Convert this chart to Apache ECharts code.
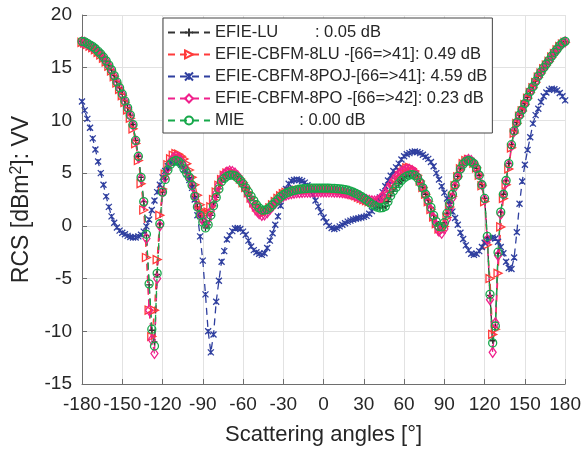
<!DOCTYPE html>
<html><head><meta charset="utf-8">
<script src="https://cdn.jsdelivr.net/npm/echarts@6/dist/echarts.min.js"></script>
<style>html,body{margin:0;padding:0;background:#fff}#c{width:584px;height:451px}</style>
</head><body><div id="c"></div>
<script>
// Scattering angles (degrees)
const angles = [-180,-178,-176,-174,-172,-170,-168,-166,-164,-162,-160,-158,-156,-154,-152,-150,-148,-146,-144,-142,-140,-138,-136,-134,-132,-130,-128,-126,-124,-122,-120,-118,-116,-114,-112,-110,-108,-106,-104,-102,-100,-98,-96,-94,-92,-90,-88,-86,-84,-82,-80,-78,-76,-74,-72,-70,-68,-66,-64,-62,-60,-58,-56,-54,-52,-50,-48,-46,-44,-42,-40,-38,-36,-34,-32,-30,-28,-26,-24,-22,-20,-18,-16,-14,-12,-10,-8,-6,-4,-2,0,2,4,6,8,10,12,14,16,18,20,22,24,26,28,30,32,34,36,38,40,42,44,46,48,50,52,54,56,58,60,62,64,66,68,70,72,74,76,78,80,82,84,86,88,90,92,94,96,98,100,102,104,106,108,110,112,114,116,118,120,122,124,126,128,130,132,134,136,138,140,142,144,146,148,150,152,154,156,158,160,162,164,166,168,170,172,174,176,178,180];

const mie = [17.5,17.45,17.3,17.15,17.0,16.8,16.55,16.3,16.0,15.65,15.25,14.8,14.25,13.65,13.1,12.5,11.85,11.2,10.5,9.6,8.1,6.6,4.6,2.3,-0.8,-5.5,-9.8,-11.4,-4.5,0.2,3.2,4.4,5.3,5.85,6.1,6.2,6.1,5.85,5.4,5.0,4.6,3.85,2.8,1.8,1.0,0.35,-0.2,0.1,1.0,1.9,2.7,3.5,4.2,4.5,4.7,4.8,4.82,4.75,4.55,4.3,4.0,3.6,3.2,2.8,2.4,2.0,1.7,1.5,1.5,1.55,1.75,2.0,2.25,2.5,2.75,2.95,3.1,3.2,3.3,3.35,3.42,3.47,3.5,3.53,3.55,3.57,3.57,3.58,3.58,3.58,3.58,3.58,3.57,3.56,3.55,3.53,3.5,3.47,3.43,3.38,3.3,3.2,3.08,2.95,2.8,2.62,2.43,2.25,2.05,1.9,1.78,1.7,1.72,1.85,2.3,2.85,3.3,3.65,4.0,4.3,4.55,4.72,4.82,4.85,4.78,4.55,4.1,3.6,3.0,2.45,1.75,1.0,0.4,-0.05,-0.1,0.3,1.2,2.1,3.0,3.9,4.7,5.4,5.85,6.1,6.2,6.1,5.9,5.45,4.8,3.9,2.6,-1.0,-6.5,-11.1,-9.5,-2.5,1.3,3.0,4.3,5.9,7.7,9.0,9.8,10.5,11.0,11.6,12.2,12.75,13.2,13.7,14.2,14.6,15.0,15.35,15.7,16.1,16.45,16.75,17.1,17.35,17.5];

const efieLU = [17.5,17.45,17.3,17.15,17.0,16.8,16.55,16.3,16.0,15.65,15.25,14.8,14.25,13.65,13.1,12.5,11.85,11.2,10.5,9.6,8.1,6.6,4.6,2.3,-0.9,-5.6,-9.9,-11.0,-4.6,0.2,3.2,4.4,5.3,5.85,6.1,6.2,6.1,5.85,5.4,5.0,4.6,3.85,2.8,1.8,1.0,0.35,-0.2,0.1,1.0,1.9,2.7,3.5,4.2,4.5,4.7,4.8,4.82,4.75,4.55,4.3,4.0,3.6,3.2,2.8,2.4,2.0,1.7,1.5,1.5,1.55,1.75,2.0,2.25,2.5,2.75,2.95,3.1,3.2,3.3,3.35,3.42,3.47,3.5,3.53,3.55,3.57,3.57,3.58,3.58,3.58,3.58,3.58,3.57,3.56,3.55,3.53,3.5,3.47,3.43,3.38,3.3,3.2,3.08,2.95,2.8,2.62,2.43,2.25,2.05,1.9,1.78,1.7,1.72,1.85,2.3,2.85,3.3,3.65,4.0,4.3,4.55,4.72,4.82,4.85,4.78,4.55,4.1,3.6,3.0,2.45,1.75,1.0,0.4,-0.05,-0.1,0.3,1.2,2.1,3.0,3.9,4.7,5.4,5.85,6.1,6.2,6.1,5.9,5.45,4.8,3.9,2.6,-1.1,-6.6,-10.9,-9.6,-2.6,1.3,3.0,4.3,5.9,7.7,9.0,9.8,10.5,11.0,11.6,12.2,12.75,13.2,13.7,14.2,14.6,15.0,15.35,15.7,16.1,16.45,16.75,17.1,17.35,17.5];

const cbfm8LU = [17.4,17.35,17.2,17.05,16.9,16.7,16.45,16.2,15.9,15.55,15.15,14.7,14.15,13.55,12.95,12.35,11.7,11.0,10.2,9.2,7.8,6.2,4.0,1.5,-3.0,-8.0,-10.5,-8.0,-3.2,1.0,3.5,4.9,5.8,6.35,6.7,6.85,6.8,6.6,6.35,5.9,5.3,4.6,3.9,2.9,2.0,1.4,1.15,1.3,1.8,2.5,3.2,3.85,4.4,4.8,5.0,5.1,5.1,5.0,4.75,4.45,4.1,3.65,3.15,2.65,2.2,1.8,1.45,1.25,1.25,1.4,1.7,2.0,2.3,2.6,2.85,3.05,3.18,3.27,3.33,3.36,3.38,3.4,3.42,3.43,3.44,3.44,3.45,3.45,3.45,3.45,3.45,3.44,3.43,3.42,3.4,3.37,3.33,3.28,3.22,3.14,3.05,2.95,2.85,2.73,2.6,2.48,2.38,2.3,2.25,2.22,2.22,2.28,2.45,2.75,3.15,3.6,4.05,4.45,4.8,5.1,5.35,5.5,5.55,5.45,5.2,4.8,4.25,3.65,3.0,2.3,1.55,0.85,0.2,-0.3,-0.45,-0.05,0.8,1.8,2.8,3.8,4.65,5.4,5.9,6.2,6.3,6.2,5.95,5.5,4.8,3.8,2.3,-1.8,-5.0,-10.3,-9.8,-4.5,-0.1,2.6,3.9,5.4,7.4,8.8,9.7,10.4,10.9,11.5,12.1,12.65,13.1,13.6,14.1,14.5,14.9,15.25,15.6,16.0,16.35,16.7,17.0,17.25,17.4];

const cbfm8POJ = [11.8,10.95,10.15,9.3,8.3,7.25,6.1,5.0,3.9,2.8,1.8,0.9,0.3,-0.15,-0.45,-0.65,-0.8,-0.95,-1.05,-1.1,-1.1,-1.0,-0.85,-0.55,-0.05,0.6,1.5,2.4,3.2,3.9,4.6,5.2,5.65,5.95,6.1,6.1,6.0,5.8,5.35,4.9,4.35,3.6,2.5,1.0,-1.0,-3.3,-6.5,-10.0,-12.0,-10.3,-7.2,-5.2,-3.4,-2.4,-1.3,-0.9,-0.5,-0.25,-0.2,-0.3,-0.55,-0.85,-1.4,-1.95,-2.3,-2.5,-2.65,-2.75,-2.6,-2.1,-1.4,-0.7,0.1,0.9,1.9,2.9,3.5,4.0,4.25,4.35,4.4,4.35,4.25,4.1,3.85,3.5,3.0,2.4,1.85,1.3,0.8,0.35,0.0,-0.2,-0.3,-0.2,-0.05,0.1,0.25,0.4,0.5,0.6,0.67,0.72,0.8,0.85,0.95,1.15,1.4,1.75,2.2,2.7,3.2,3.75,4.3,4.75,5.2,5.55,5.9,6.3,6.6,6.8,6.9,7.0,7.05,7.0,6.9,6.75,6.55,6.35,6.05,5.65,5.0,4.4,3.75,3.15,2.6,2.0,1.35,0.75,0.1,-0.65,-1.25,-1.85,-2.3,-2.65,-2.75,-2.65,-2.4,-2.0,-1.6,-1.35,-1.15,-1.1,-1.2,-1.5,-2.0,-2.6,-3.4,-4.0,-4.1,-3.0,-0.6,2.1,4.2,5.8,7.2,8.4,9.7,10.5,11.1,11.75,12.3,12.65,12.9,13.0,12.95,12.85,12.6,12.3,11.9];

const cbfm8PO = [17.45,17.4,17.25,17.1,16.95,16.75,16.5,16.25,15.95,15.6,15.2,14.75,14.2,13.6,13.05,12.45,11.8,11.15,10.45,9.55,8.05,6.5,4.5,2.1,-1.2,-8.0,-10.8,-12.1,-5.0,0.0,3.2,4.6,5.5,6.1,6.45,6.55,6.45,6.15,5.7,5.2,4.6,3.8,2.8,1.8,1.0,0.5,0.3,0.6,1.4,2.3,3.1,3.9,4.5,4.9,5.1,5.2,5.15,5.0,4.75,4.4,3.95,3.45,2.9,2.35,1.85,1.45,1.15,1.0,1.05,1.25,1.55,1.85,2.15,2.45,2.65,2.8,2.92,3.0,3.06,3.1,3.14,3.16,3.18,3.19,3.2,3.2,3.21,3.22,3.22,3.22,3.22,3.22,3.21,3.21,3.2,3.2,3.18,3.15,3.12,3.08,3.02,2.95,2.87,2.78,2.68,2.58,2.5,2.42,2.37,2.35,2.4,2.55,2.8,3.15,3.55,3.95,4.35,4.65,4.9,5.1,5.25,5.35,5.35,5.25,5.05,4.7,4.2,3.6,2.95,2.25,1.5,0.75,0.05,-0.5,-0.7,-0.3,0.6,1.6,2.65,3.7,4.6,5.35,5.9,6.2,6.3,6.2,5.95,5.5,4.85,3.9,2.5,-1.3,-7.0,-12.0,-9.2,-2.8,1.1,3.0,4.1,5.8,7.6,8.95,9.75,10.45,10.95,11.55,12.15,12.7,13.15,13.65,14.15,14.55,14.95,15.3,15.65,16.05,16.4,16.7,17.05,17.3,17.45];

const seriesNames = [
  'EFIE-LU        : 0.05 dB',
  'EFIE-CBFM-8LU -[66=>41]: 0.49 dB',
  'EFIE-CBFM-8POJ-[66=>41]: 4.59 dB',
  'EFIE-CBFM-8PO -[66=>42]: 0.23 dB',
  'MIE            : 0.00 dB'
];
const xTicks = {min: -180, max: 180, step: 30};
const yTicks = {min: -15, max: 20, step: 5};
const xTitle = 'Scattering angles [°]';

const FONT = '"Liberation Sans", Arial, Helvetica, sans-serif';
const TXT = '#262626';
const AX = '#6e6e6e';

function mk(name, vals, color, symbol, size) {
  return {
    name: name,
    type: 'line',
    data: angles.map((a, i) => [a, vals[i]]),
    symbol: symbol,
    symbolSize: size,
    showAllSymbol: true,
    lineStyle: {color: color, width: 1.3, type: [7, 5]},
    itemStyle: {color: 'rgba(0,0,0,0)', borderColor: color, borderWidth: 1.3},
    emphasis: {disabled: true},
    animation: false
  };
}

const chart = echarts.init(document.getElementById('c'), null, {renderer: 'canvas'});
chart.setOption({
  animation: false,
  backgroundColor: '#fff',
  textStyle: {fontFamily: FONT},
  grid: {left: 82, right: 17, top: 15, bottom: 66, containLabel: false},
  legend: {
    orient: 'vertical',
    left: 163, top: 18,
    padding: [6, 5, 4, 4],
    itemGap: 5,
    itemWidth: 42,
    itemHeight: 10,
    backgroundColor: '#fff',
    borderColor: '#444',
    borderWidth: 1,
    borderRadius: 0,
    textStyle: {fontSize: 16.5, color: TXT, fontFamily: FONT},
    data: seriesNames
  },
  xAxis: {
    type: 'value',
    min: xTicks.min, max: xTicks.max, interval: xTicks.step,
    name: xTitle,
    nameLocation: 'middle',
    nameGap: 40,
    nameTextStyle: {fontSize: 22, color: TXT, fontFamily: FONT},
    axisLine: {onZero: false, lineStyle: {color: AX, width: 1}},
    axisTick: {inside: true, length: 5, lineStyle: {color: AX}},
    axisLabel: {fontSize: 19, color: TXT, margin: 11, fontFamily: FONT},
    splitLine: {show: true, lineStyle: {color: '#e2e2e2', width: 1}}
  },
  yAxis: {
    type: 'value',
    min: yTicks.min, max: yTicks.max, interval: yTicks.step,
    name: '{a|RCS [dBm}{s|2}{a|]: VV}',
    nameLocation: 'middle',
    nameGap: 47,
    nameTextStyle: {
      color: TXT, fontFamily: FONT,
      rich: {
        a: {fontSize: 23, color: TXT, fontFamily: FONT},
        s: {fontSize: 16, color: TXT, fontFamily: FONT, verticalAlign: 'top', padding: [0, 0, 10, 0]}
      }
    },
    axisLine: {onZero: false, lineStyle: {color: AX, width: 1}},
    axisTick: {inside: true, length: 5, lineStyle: {color: AX}},
    axisLabel: {fontSize: 19, color: TXT, margin: 10, fontFamily: FONT},
    splitLine: {show: true, lineStyle: {color: '#e2e2e2', width: 1}}
  },
  series: [
    mk(seriesNames[0], efieLU, '#333333', 'path://M5,0L5,10M0,5L10,5', 6),
    mk(seriesNames[1], cbfm8LU, '#ff3b3b', 'path://M0,0L10,5L0,10Z', 8),
    mk(seriesNames[2], cbfm8POJ, '#2f3f9f', 'path://M0,0L10,10M10,0L0,10M5,1L5,9', 6),
    mk(seriesNames[3], cbfm8PO, '#f0208c', 'diamond', [7, 10]),
    mk(seriesNames[4], mie, '#16a84a', 'circle', 8)
  ]
});
</script>
</body></html>
